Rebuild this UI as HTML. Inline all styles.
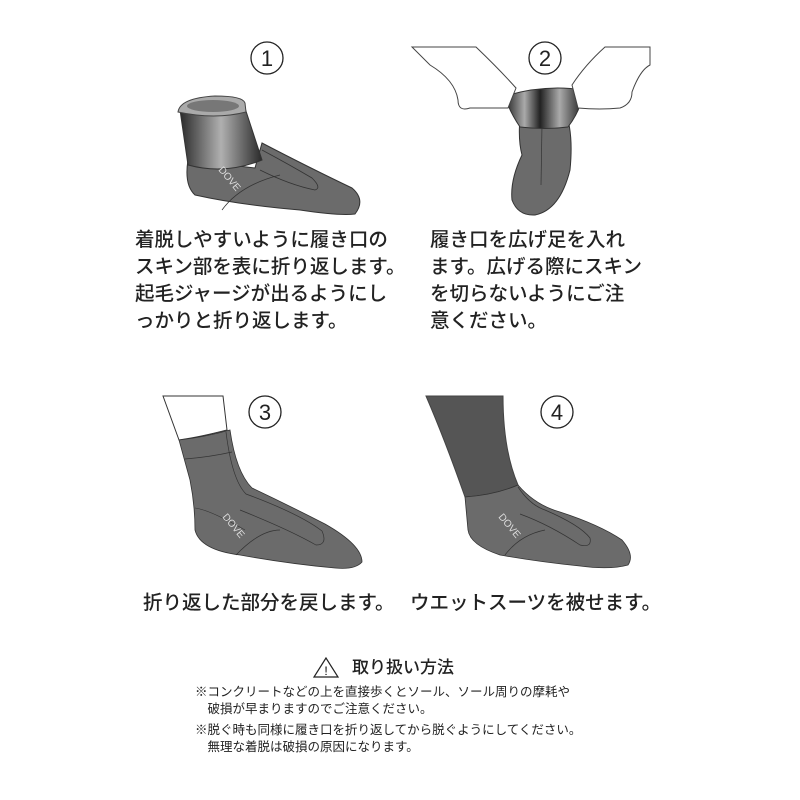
<!DOCTYPE html>
<html><head><meta charset="utf-8"><style>
body{margin:0;background:#fff;width:800px;height:800px;overflow:hidden;position:relative;font-family:"Liberation Sans","Noto Sans CJK JP",sans-serif;color:#222}
.t{position:absolute;font-size:19.5px;line-height:27px;font-weight:500;white-space:nowrap}
.n{position:absolute;font-size:12.5px;line-height:17px;white-space:nowrap}
svg{position:absolute;left:0;top:0}
</style></head><body>
<svg width="800" height="800" viewBox="0 0 800 800">
<defs>
<linearGradient id="g" x1="0" x2="1"><stop offset="0" stop-color="#2a2a2a"/><stop offset="0.5" stop-color="#b0b0b0"/><stop offset="1" stop-color="#2a2a2a"/></linearGradient>
<linearGradient id="g2" x1="0" x2="1"><stop offset="0" stop-color="#222"/><stop offset="0.25" stop-color="#aaa"/><stop offset="0.45" stop-color="#222"/><stop offset="0.7" stop-color="#aaa"/><stop offset="1" stop-color="#222"/></linearGradient>
</defs>
<g fill="none" stroke="#222" stroke-width="1.3">
<circle cx="267" cy="58" r="16"/><circle cx="545" cy="58" r="16"/><circle cx="265" cy="412" r="16"/><circle cx="557" cy="412" r="16"/>
</g>
<g font-size="22" text-anchor="middle" fill="#222"><text x="267" y="66">1</text><text x="545" y="66">2</text><text x="265" y="420">3</text><text x="557" y="420">4</text></g>
<!-- sock1 -->
<path d="M188 160 Q184 185 195 195 Q240 205 300 210 Q340 216 355 214 Q366 200 352 188 Q310 168 262 143 L255 168 Z" fill="#6b6b6b" stroke="#333"/>
<path d="M180 110 L188 165 Q225 175 262 160 L244 105 Z" fill="url(#g)" stroke="#333"/>
<path d="M178 112 Q180 98 215 96 Q243 96 245 103 L246 112 Q215 120 178 112 Z" fill="#aaa" stroke="#444"/>
<ellipse cx="213" cy="106" rx="26" ry="6" fill="#777"/>
<path d="M262 150 Q290 165 312 178 Q322 188 315 190 Q290 185 260 170" fill="none" stroke="#333" stroke-width="0.8"/>
<path d="M222 210 Q240 185 280 175" fill="none" stroke="#333" stroke-width="0.8"/>
<text x="218" y="170" fill="#ddd" font-size="10" transform="rotate(50 218 170)">DOVE</text>
<!-- sock2 -->
<path d="M520 118 Q518 140 522 155 Q510 180 512 200 Q518 216 535 215 Q560 210 570 170 Q573 140 568 120 Z" fill="#6b6b6b" stroke="#333"/>
<path d="M542 125 L541 185" stroke="#333" stroke-width="0.7" fill="none"/>
<path d="M505 96 L508 105 Q512 115 520 127 Q545 130 568 127 Q577 115 580 105 L583 90 Q545 84 505 96 Z" fill="url(#g2)" stroke="#333"/>
<path d="M412 47 L476 47 Q500 70 516 88 L508 108 Q490 108 470 108 Q458 112 458 100 Q455 80 430 65 Z" fill="#fff" stroke="#444"/>
<path d="M650 47 L605 47 Q585 65 572 85 L578 108 Q600 110 620 108 Q632 104 632 92 Q640 70 650 65 Z" fill="#fff" stroke="#444"/>
<!-- sock3 -->
<path d="M163 396 L223 396 L227 430 Q200 437 179 440 Z" fill="#fff" stroke="#333"/>
<path d="M179 440 Q205 437 230 430 Q236 472 252 488 Q290 506 325 524 Q362 545 362 562 Q355 570 335 568 Q290 564 240 555 Q200 550 195 530 Q195 505 190 480 Z" fill="#6b6b6b" stroke="#333" stroke-width="0.8"/>
<path d="M226 432 Q232 480 246 494 Q300 514 322 531 Q328 545 316 545 Q290 530 240 510" fill="none" stroke="#333" stroke-width="0.7"/>
<path d="M185 459 Q210 457 232 452" fill="none" stroke="#333" stroke-width="0.7"/>
<path d="M236 555 Q260 530 280 530" fill="none" stroke="#333" stroke-width="0.7"/>
<path d="M195 508 Q210 510 245 530" fill="none" stroke="#333" stroke-width="0.6"/>
<text x="222" y="517" fill="#ddd" font-size="10" transform="rotate(50 222 517)">DOVE</text>
<!-- sock4 -->
<path d="M426 396 L503 396 Q503 450 518 485 Q495 495 465 497 Q445 440 426 396 Z" fill="#555" stroke="#444"/>
<path d="M465 497 Q495 495 518 485 Q535 505 560 512 Q600 525 622 540 Q635 555 628 565 Q610 570 580 566 Q540 562 500 555 Q470 545 468 530 Z" fill="#6b6b6b" stroke="#333" stroke-width="0.8"/>
<path d="M518 487 Q530 505 545 510 Q580 525 590 538 Q592 548 580 545 Q550 525 520 514" fill="none" stroke="#333" stroke-width="0.7"/>
<path d="M505 555 Q520 535 545 530" fill="none" stroke="#333" stroke-width="0.7"/>
<text x="498" y="517" fill="#ddd" font-size="10" transform="rotate(50 498 517)">DOVE</text>
<!-- warning -->
<path d="M326 658 L314 677 L338 677 Z" fill="none" stroke="#222" stroke-width="1.2"/>
<text x="326" y="675" font-size="12" text-anchor="middle">!</text>
</svg>
<div class="t" style="left:135px;top:227px">着脱しやすいように履き口の<br>スキン部を表に折り返します。<br>起毛ジャージが出るようにし<br>っかりと折り返します。</div>
<div class="t" style="left:430px;top:227px">履き口を広げ足を入れ<br>ます。広げる際にスキン<br>を切らないようにご注<br>意ください。</div>
<div class="t" style="left:143px;top:590px">折り返した部分を戻します。</div>
<div class="t" style="left:410px;top:590px">ウエットスーツを被せます。</div>
<div class="t" style="left:352px;top:654px;font-size:17px">取り扱い方法</div>
<div class="n" style="left:195px;top:684px">※コンクリートなどの上を直接歩くとソール、ソール周りの摩耗や<br>　破損が早まりますのでご注意ください。</div>
<div class="n" style="left:195px;top:722px">※脱ぐ時も同様に履き口を折り返してから脱ぐようにしてください。<br>　無理な着脱は破損の原因になります。</div>
</body></html>
